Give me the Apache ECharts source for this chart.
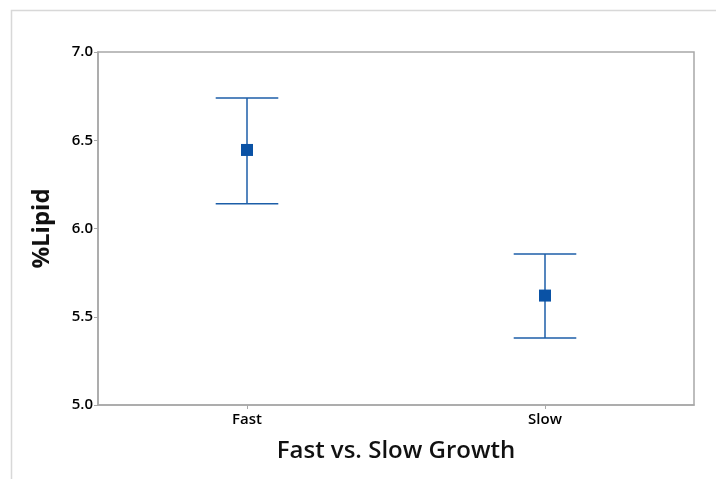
<!DOCTYPE html>
<html>
<head>
<meta charset="utf-8">
<script src="https://cdn.jsdelivr.net/npm/echarts@6/dist/echarts.min.js"></script>
<style>html,body{margin:0;padding:0;background:#fff;}#c{width:716px;height:479px;}</style>
</head>
<body>
<div id="c"></div>
<script>
const categories = ["Fast", "Slow"];
const means = [6.445, 5.62];
const lowers = [6.14, 5.38];
const uppers = [6.74, 5.855];
const yTicks = [5.0, 5.5, 6.0, 6.5, 7.0];

const chart = echarts.init(document.getElementById('c'), null, {renderer: 'canvas'});
const font = '"Open Sans", "Noto Sans", sans-serif';
const blue = '#1c5ea8';

const errData = categories.map((c, i) => [i, lowers[i], uppers[i], means[i]]);

chart.setOption({
  animation: false,
  backgroundColor: '#fff',
  graphic: [{
    type: 'rect', left: 9, top: 8, shape: {width: 720, height: 480},
    style: {fill: 'none', stroke: '#d8d8d8', lineWidth: 1.5}, silent: true, z: -10
  }],
  grid: {left: 98, right: 22, top: 52, bottom: 74, show: true, borderColor: '#a8a8a8', borderWidth: 1.5, backgroundColor: 'transparent'},
  xAxis: {
    type: 'category', data: categories, boundaryGap: true,
    name: 'Fast vs. Slow Growth', nameLocation: 'middle', nameGap: 34,
    nameTextStyle: {fontFamily: font, fontSize: 24, fontWeight: 600, color: '#111'},
    axisLine: {lineStyle: {color: '#a8a8a8', width: 1.5}},
    axisTick: {show: true, alignWithLabel: true, length: 4, lineStyle: {color: '#a8a8a8'}},
    axisLabel: {fontFamily: font, fontSize: 15, fontWeight: 600, color: '#000', margin: 7},
    splitLine: {show: false}
  },
  yAxis: {
    type: 'value', min: 5.0, max: 7.0, interval: 0.5,
    name: '%Lipid', nameLocation: 'middle', nameGap: 44,
    nameTextStyle: {fontFamily: font, fontSize: 24, fontWeight: 'bold', color: '#111'},
    axisLine: {show: true, lineStyle: {color: '#a8a8a8', width: 1.5}},
    axisTick: {show: true, length: 4, lineStyle: {color: '#a8a8a8'}},
    axisLabel: {fontFamily: font, fontSize: 15, fontWeight: 600, color: '#000', margin: 5,
      formatter: v => yTicks.includes(v) ? v.toFixed(1) : ''},
    splitLine: {show: false}
  },
  series: [{
    type: 'custom',
    data: errData,
    encode: {x: 0, y: [1, 2]},
    renderItem: function (params, api) {
      const x = api.value(0);
      const lo = api.coord([x, api.value(1)]);
      const hi = api.coord([x, api.value(2)]);
      const mid = api.coord([x, api.value(3)]);
      const half = api.size([1, 0])[0] * 0.105;
      const ls = {stroke: blue, lineWidth: 1.5, fill: 'none'};
      const s = 12;
      return {
        type: 'group',
        children: [
          {type: 'line', shape: {x1: hi[0], y1: hi[1], x2: lo[0], y2: lo[1]}, style: ls},
          {type: 'line', shape: {x1: hi[0] - half, y1: hi[1], x2: hi[0] + half, y2: hi[1]}, style: ls},
          {type: 'line', shape: {x1: lo[0] - half, y1: lo[1], x2: lo[0] + half, y2: lo[1]}, style: ls},
          {type: 'rect', shape: {x: mid[0] - s / 2, y: mid[1] - s / 2, width: s, height: s}, style: {fill: '#0a52a5'}}
        ]
      };
    }
  }]
});
</script>
</body>
</html>
